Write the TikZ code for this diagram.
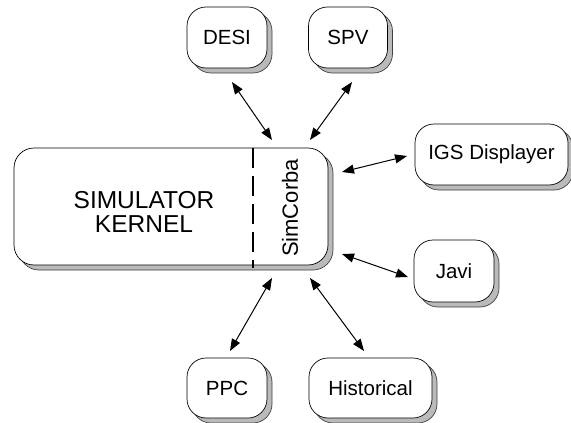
\documentclass[tikz,border=0pt]{standalone}
\usepackage{fontspec}
\setmainfont{Liberation Sans}
\usetikzlibrary{shadows,arrows.meta}
\begin{document}
\begin{tikzpicture}[x=1pt,y=-1pt,
  box/.style={draw=black, line width=0.7pt, fill=white, rounded corners=19pt,
    inner sep=0pt, font=\fontsize{20.5}{22}\selectfont,
    copy shadow={shadow xshift=5pt, shadow yshift=-5pt, fill=black!27, draw=black!75, line width=0.7pt}},
  link/.style={{Triangle[length=12pt,width=9pt]}-{Triangle[length=12pt,width=9pt]}, line width=1pt}
]
\useasboundingbox (0,0) rectangle (571,423);
% main kernel box
\node[box, minimum width=314pt, minimum height=117pt, rounded corners=20pt] (kernel) at (171,206.5) {};
\draw[line width=1.4pt, dash pattern=on 20pt off 8pt] (253,148) -- (253,268);
\node[font=\fontsize{24.5}{24}\selectfont, align=center] (simk) at (144,211.5) {SIMULATOR\\KERNEL};
\node[font=\fontsize{22}{22}\selectfont, rotate=90] (simcorba) at (290,208) {SimCorba};
% peripheral boxes
\node[box, minimum width=80pt, minimum height=61pt] (desi) at (227,37.5) {DESI};
\node[box, minimum width=79pt, minimum height=61pt] (spv) at (348,37.5) {SPV};
\node[box, minimum width=153pt, minimum height=61pt] (igs) at (491.5,154.5) {IGS Displayer};
\node[box, minimum width=80pt, minimum height=62pt] (javi) at (454,271) {Javi};
\node[box, minimum width=80pt, minimum height=60pt] (ppc) at (227,388) {PPC};
\node[box, minimum width=123pt, minimum height=60pt] (hist) at (370.5,388) {Historical};
% connector end points
\coordinate (desiE) at (232,82);   \coordinate (kDesi) at (272,140);
\coordinate (spvE) at (352,82);    \coordinate (kSpv) at (310,140);
\coordinate (igsE) at (407,156);   \coordinate (kIgs) at (342,172);
\coordinate (javiE) at (408,277);  \coordinate (kJavi) at (342,254);
\coordinate (ppcE) at (230,351);   \coordinate (kPpc) at (272,278);
\coordinate (histE) at (364,351);  \coordinate (kHist) at (310,278);
\draw[link] (desiE) -- (kDesi);
\draw[link] (spvE) -- (kSpv);
\draw[link] (kIgs) -- (igsE);
\draw[link] (kJavi) -- (javiE);
\draw[link] (kPpc) -- (ppcE);
\draw[link] (kHist) -- (histE);
\end{tikzpicture}
\end{document}
